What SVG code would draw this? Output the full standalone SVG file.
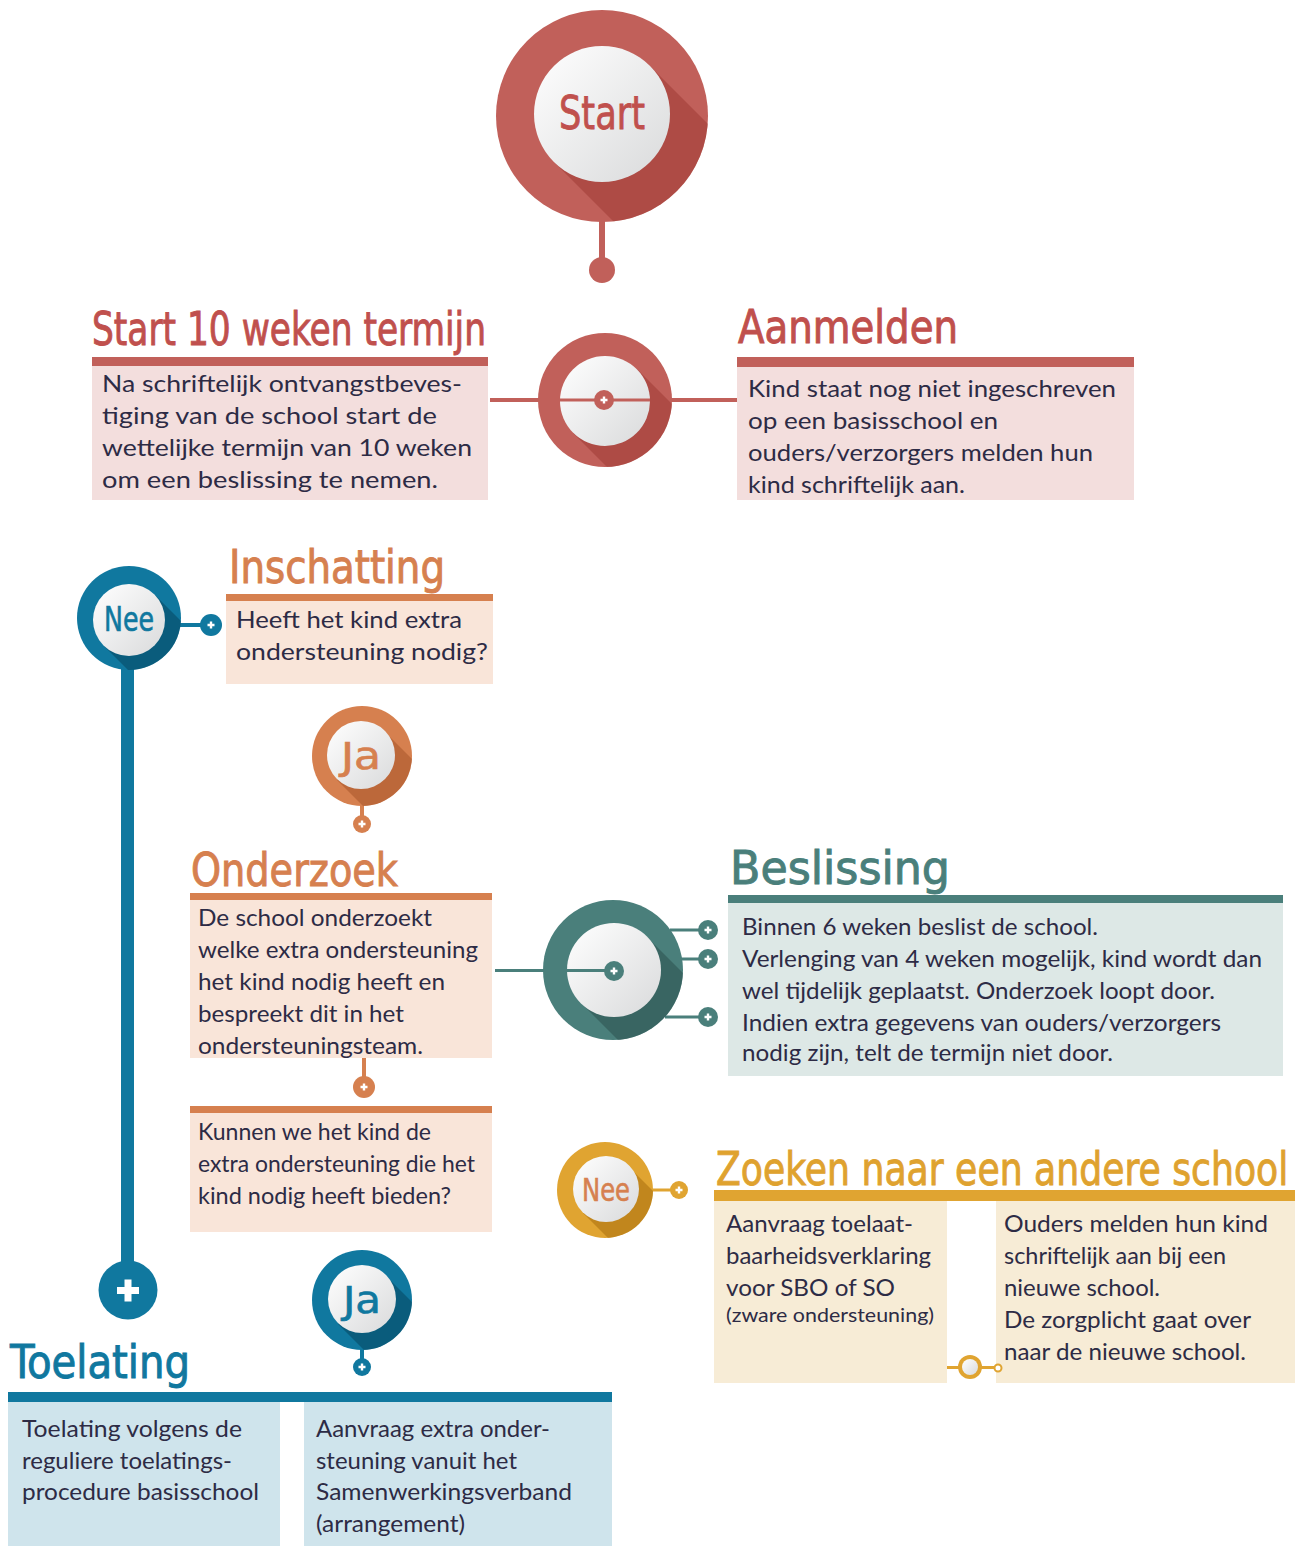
<svg xmlns="http://www.w3.org/2000/svg" xmlns:xlink="http://www.w3.org/1999/xlink" width="1303" height="1546" viewBox="0 0 1303 1546">
<style>
.title{font-family:"DejaVu Sans Condensed","DejaVu Sans",sans-serif;font-size:46px;stroke-width:0.9px;}
.body{font-family:Lato,"Liberation Sans",sans-serif;font-size:24px;fill:#2d2b45;}
.red{fill:#c1605a}.redT{fill:#c0504d;stroke:#c0504d}.redP{fill:#f3dedd}
.org{fill:#d6804f}.orgT{fill:#d6804f;stroke:#d6804f}.orgP{fill:#f9e5d9}
.blu{fill:#10789f}.bluT{fill:#10789f;stroke:#10789f}.bluP{fill:#cfe4ec}
.tea{fill:#4a7f7b}.teaT{fill:#4a7f7b;stroke:#4a7f7b}.teaP{fill:#dde8e6}
.gld{fill:#e0a431}.gldT{fill:#dfa22f;stroke:#dfa22f}.gldP{fill:#f7ecd6}
.inner{fill:url(#ig)}
.nodeT{font-family:"DejaVu Sans Condensed","DejaVu Sans",sans-serif;text-anchor:middle;}
.shd{opacity:0.55}
</style>
<defs>
<linearGradient id="ig" x1="0" y1="0" x2="1" y2="1">
<stop offset="0" stop-color="#ffffff"/><stop offset="1" stop-color="#d9dadb"/>
</linearGradient>
<path id="plusS" d="M-3.5,0H3.5M0,-3.5V3.5" stroke="#fff" stroke-width="2.4" fill="none"/>
<clipPath id="c1"><circle cx="602" cy="116" r="106"/></clipPath>
<clipPath id="c2"><circle cx="605" cy="400" r="67"/></clipPath>
<clipPath id="c3"><circle cx="129" cy="618" r="52"/></clipPath>
<clipPath id="c4"><circle cx="362" cy="756" r="50"/></clipPath>
<clipPath id="c5"><circle cx="613" cy="970" r="70"/></clipPath>
<clipPath id="c6"><circle cx="605" cy="1190" r="48"/></clipPath>
<clipPath id="c7"><circle cx="362" cy="1300" r="50"/></clipPath>
</defs>
<rect width="1303" height="1546" fill="#fff"/>

<g id="connectors">
<rect x="599" y="218" width="6" height="42" class="red"/>
<circle cx="602" cy="270" r="13" class="red"/>
<rect x="490" y="398" width="248" height="4" class="red"/>
<rect x="121" y="660" width="13" height="610" class="blu"/>
<rect x="180" y="623" width="22" height="4" class="blu"/>
<rect x="360" y="800" width="4" height="18" class="org"/>
<rect x="362" y="1058" width="4" height="22" class="org"/>
<rect x="495" y="969" width="118" height="3" class="tea"/>
<rect x="670" y="928.5" width="32" height="3" class="tea"/>
<rect x="680" y="957.5" width="22" height="3" class="tea"/>
<rect x="665" y="1015.5" width="37" height="3" class="tea"/>
<rect x="650" y="1188.5" width="22" height="3" class="gld"/>
<rect x="360" y="1345" width="4" height="16" class="blu"/>
<rect x="945" y="1366" width="52" height="3" class="gld"/>
</g>

<g id="start-node">
<circle cx="602" cy="116" r="106" class="red"/>
<polygon points="650,66 780,196 684,292 554,162" fill="#9e3a35" class="shd" clip-path="url(#c1)"/>
<circle cx="602" cy="114" r="68" class="inner"/>
<text x="602" y="129" class="nodeT redT" font-size="46" stroke-width="0.8" textLength="86" lengthAdjust="spacingAndGlyphs">Start</text>
</g>

<g id="mid-node">
<circle cx="605" cy="400" r="67" class="red"/>
<polygon points="637,369 717,449 653,513 573,433" fill="#9e3a35" class="shd" clip-path="url(#c2)"/>
<circle cx="605" cy="401" r="45" class="inner"/>
<rect x="560" y="398.5" width="90" height="3" class="red"/>
<circle cx="604" cy="400" r="10" class="red"/>
<use xlink:href="#plusS" x="604" y="400"/>
</g>

<g id="termijn">
<text x="92" y="345" class="title redT" textLength="394" lengthAdjust="spacingAndGlyphs">Start 10 weken termijn</text>
<rect x="92" y="357" width="396" height="9" class="red"/>
<rect x="92" y="366" width="396" height="134" class="redP"/>
<text class="body"><tspan x="102" y="392" textLength="360" lengthAdjust="spacingAndGlyphs">Na schriftelijk ontvangstbeves-</tspan><tspan x="102" y="424" textLength="335" lengthAdjust="spacingAndGlyphs">tiging van de school start de</tspan><tspan x="102" y="456" textLength="370" lengthAdjust="spacingAndGlyphs">wettelijke termijn van 10 weken</tspan><tspan x="102" y="488" textLength="336" lengthAdjust="spacingAndGlyphs">om een beslissing te nemen.</tspan></text>
</g>

<g id="aanmelden">
<text x="738" y="343" class="title redT" textLength="220" lengthAdjust="spacingAndGlyphs">Aanmelden</text>
<rect x="737" y="357" width="397" height="10" class="red"/>
<rect x="737" y="367" width="397" height="133" class="redP"/>
<text class="body"><tspan x="748" y="397" textLength="368" lengthAdjust="spacingAndGlyphs">Kind staat nog niet ingeschreven</tspan><tspan x="748" y="429" textLength="250" lengthAdjust="spacingAndGlyphs">op een basisschool en</tspan><tspan x="748" y="461" textLength="345" lengthAdjust="spacingAndGlyphs">ouders/verzorgers melden hun</tspan><tspan x="748" y="493" textLength="217" lengthAdjust="spacingAndGlyphs">kind schriftelijk aan.</tspan></text>
</g>

<g id="nee-blue">
<circle cx="129" cy="618" r="52" class="blu"/>
<polygon points="154.5,594.5 224.5,664.5 173.5,715.5 103.5,645.5" fill="#06465e" class="shd" clip-path="url(#c3)"/>
<circle cx="129" cy="620" r="36" class="inner"/>
<text x="129" y="631" class="nodeT bluT" font-size="33" stroke-width="0.6" textLength="50" lengthAdjust="spacingAndGlyphs">Nee</text>
<circle cx="211" cy="625" r="11" class="blu"/>
<use xlink:href="#plusS" x="211" y="625"/>
</g>

<g id="inschatting">
<text x="229" y="583" class="title orgT" textLength="216" lengthAdjust="spacingAndGlyphs">Inschatting</text>
<rect x="226" y="594" width="267" height="7" class="org"/>
<rect x="226" y="601" width="267" height="83" class="orgP"/>
<text class="body"><tspan x="236" y="628" textLength="226" lengthAdjust="spacingAndGlyphs">Heeft het kind extra</tspan><tspan x="236" y="660" textLength="252" lengthAdjust="spacingAndGlyphs">ondersteuning nodig?</tspan></text>
</g>

<g id="ja-orange">
<circle cx="362" cy="756" r="50" class="org"/>
<polygon points="385,732 455,802 407,850 337,780" fill="#a8542a" class="shd" clip-path="url(#c4)"/>
<circle cx="361" cy="755" r="34" class="inner"/>
<text x="361" y="769" class="nodeT orgT" font-size="38" stroke-width="0.6" textLength="40" lengthAdjust="spacingAndGlyphs">Ja</text>
<circle cx="362" cy="824" r="9" class="org"/>
<use xlink:href="#plusS" x="362" y="824"/>
</g>

<g id="onderzoek">
<text x="191" y="886" class="title orgT" textLength="207" lengthAdjust="spacingAndGlyphs">Onderzoek</text>
<rect x="190" y="893" width="302" height="7" class="org"/>
<rect x="190" y="900" width="302" height="158" class="orgP"/>
<text class="body"><tspan x="198" y="926" textLength="234" lengthAdjust="spacingAndGlyphs">De school onderzoekt</tspan><tspan x="198" y="958" textLength="280" lengthAdjust="spacingAndGlyphs">welke extra ondersteuning</tspan><tspan x="198" y="990" textLength="247" lengthAdjust="spacingAndGlyphs">het kind nodig heeft en</tspan><tspan x="198" y="1022" textLength="206" lengthAdjust="spacingAndGlyphs">bespreekt dit in het</tspan><tspan x="198" y="1054" textLength="225" lengthAdjust="spacingAndGlyphs">ondersteuningsteam.</tspan></text>
<circle cx="364" cy="1087" r="11" class="org"/>
<use xlink:href="#plusS" x="364" y="1087"/>
</g>

<g id="kunnen">
<rect x="190" y="1106" width="302" height="7" class="org"/>
<rect x="190" y="1113" width="302" height="119" class="orgP"/>
<text class="body"><tspan x="198" y="1140" textLength="233" lengthAdjust="spacingAndGlyphs">Kunnen we het kind de</tspan><tspan x="198" y="1172" textLength="277" lengthAdjust="spacingAndGlyphs">extra ondersteuning die het</tspan><tspan x="198" y="1204" textLength="253" lengthAdjust="spacingAndGlyphs">kind nodig heeft bieden?</tspan></text>
</g>

<g id="beslissing-node">
<circle cx="613" cy="970" r="70" class="tea"/>
<polygon points="647,937 737,1027 671,1093 581,1003" fill="#2c504e" class="shd" clip-path="url(#c5)"/>
<circle cx="614" cy="970" r="47" class="inner"/>
<rect x="567" y="969" width="47" height="3" class="tea"/>
<circle cx="614" cy="971" r="10" class="tea"/>
<use xlink:href="#plusS" x="614" y="971"/>
<circle cx="708" cy="930" r="10" class="tea"/>
<use xlink:href="#plusS" x="708" y="930"/>
<circle cx="708" cy="959" r="10" class="tea"/>
<use xlink:href="#plusS" x="708" y="959"/>
<circle cx="708" cy="1017" r="10" class="tea"/>
<use xlink:href="#plusS" x="708" y="1017"/>
</g>

<g id="beslissing">
<text x="730" y="884" class="title teaT" font-size="48" textLength="220" lengthAdjust="spacingAndGlyphs">Beslissing</text>
<rect x="728" y="895" width="555" height="8" class="tea"/>
<rect x="728" y="903" width="555" height="173" class="teaP"/>
<text class="body"><tspan x="742" y="935" textLength="356" lengthAdjust="spacingAndGlyphs">Binnen 6 weken beslist de school.</tspan><tspan x="742" y="967" textLength="520" lengthAdjust="spacingAndGlyphs">Verlenging van 4 weken mogelijk, kind wordt dan</tspan><tspan x="742" y="999" textLength="473" lengthAdjust="spacingAndGlyphs">wel tijdelijk geplaatst. Onderzoek loopt door.</tspan><tspan x="742" y="1031" textLength="479" lengthAdjust="spacingAndGlyphs">Indien extra gegevens van ouders/verzorgers</tspan><tspan x="742" y="1061" textLength="371" lengthAdjust="spacingAndGlyphs">nodig zijn, telt de termijn niet door.</tspan></text>
</g>

<g id="nee-gold">
<circle cx="605" cy="1190" r="48" class="gld"/>
<polygon points="629,1167 699,1237 653,1283 583,1213" fill="#a86d0c" class="shd" clip-path="url(#c6)"/>
<circle cx="606" cy="1189" r="33" class="inner"/>
<text x="606" y="1201" class="nodeT orgT" font-size="32" stroke-width="0.6" textLength="48" lengthAdjust="spacingAndGlyphs">Nee</text>
<circle cx="679" cy="1190" r="9" class="gld"/>
<use xlink:href="#plusS" x="679" y="1190"/>
</g>

<g id="zoeken">
<rect x="714" y="1190" width="581" height="11" class="gld"/>
<rect x="714" y="1201" width="233" height="182" class="gldP"/>
<rect x="996" y="1201" width="299" height="182" class="gldP"/>
<text x="804.5" y="1185" class="title gldT" font-size="45" transform="scale(0.89 1)" textLength="643" lengthAdjust="spacingAndGlyphs">Zoeken naar een andere school</text>
<text class="body"><tspan x="726" y="1232" textLength="187" lengthAdjust="spacingAndGlyphs">Aanvraag toelaat-</tspan><tspan x="726" y="1264" textLength="205" lengthAdjust="spacingAndGlyphs">baarheidsverklaring</tspan><tspan x="726" y="1296" textLength="169" lengthAdjust="spacingAndGlyphs">voor SBO of SO</tspan><tspan x="726" y="1322" font-size="19" textLength="208" lengthAdjust="spacingAndGlyphs">(zware ondersteuning)</tspan></text>
<text class="body"><tspan x="1004" y="1232" textLength="264" lengthAdjust="spacingAndGlyphs">Ouders melden hun kind</tspan><tspan x="1004" y="1264" textLength="222" lengthAdjust="spacingAndGlyphs">schriftelijk aan bij een</tspan><tspan x="1004" y="1296" textLength="156" lengthAdjust="spacingAndGlyphs">nieuwe school.</tspan><tspan x="1004" y="1328" textLength="247" lengthAdjust="spacingAndGlyphs">De zorgplicht gaat over</tspan><tspan x="1004" y="1360" textLength="242" lengthAdjust="spacingAndGlyphs">naar de nieuwe school.</tspan></text>
<circle cx="970" cy="1367" r="12" class="gld"/>
<circle cx="970" cy="1367" r="8" class="inner"/>
<circle cx="998" cy="1368" r="3.5" fill="#fff" stroke="#e0a431" stroke-width="2"/>
</g>

<g id="plus-blue">
<circle cx="128" cy="1290" r="29.5" class="blu"/>
<rect x="117" y="1287" width="22" height="7" fill="#fff"/>
<rect x="124.5" y="1279.5" width="7" height="22" fill="#fff"/>
</g>

<g id="ja-blue">
<circle cx="362" cy="1300" r="50" class="blu"/>
<polygon points="386,1276 456,1346 408,1394 338,1324" fill="#06465e" class="shd" clip-path="url(#c7)"/>
<circle cx="362" cy="1299" r="34" class="inner"/>
<text x="362" y="1313" class="nodeT bluT" font-size="38" stroke-width="0.6" textLength="38" lengthAdjust="spacingAndGlyphs">Ja</text>
<circle cx="362" cy="1367" r="9" class="blu"/>
<use xlink:href="#plusS" x="362" y="1367"/>
</g>

<g id="toelating">
<text x="10" y="1378" class="title bluT" font-size="48" textLength="180" lengthAdjust="spacingAndGlyphs">Toelating</text>
<rect x="8" y="1392" width="604" height="10" class="blu"/>
<rect x="8" y="1402" width="272" height="144" class="bluP"/>
<rect x="304" y="1402" width="308" height="144" class="bluP"/>
<text class="body"><tspan x="22" y="1437" textLength="220" lengthAdjust="spacingAndGlyphs">Toelating volgens de</tspan><tspan x="22" y="1469" textLength="210" lengthAdjust="spacingAndGlyphs">reguliere toelatings-</tspan><tspan x="22" y="1500" textLength="237" lengthAdjust="spacingAndGlyphs">procedure basisschool</tspan></text>
<text class="body"><tspan x="316" y="1437" textLength="234" lengthAdjust="spacingAndGlyphs">Aanvraag extra onder-</tspan><tspan x="316" y="1469" textLength="201" lengthAdjust="spacingAndGlyphs">steuning vanuit het</tspan><tspan x="316" y="1500" textLength="256" lengthAdjust="spacingAndGlyphs">Samenwerkingsverband</tspan><tspan x="316" y="1532" textLength="149" lengthAdjust="spacingAndGlyphs">(arrangement)</tspan></text>
</g>
</svg>
